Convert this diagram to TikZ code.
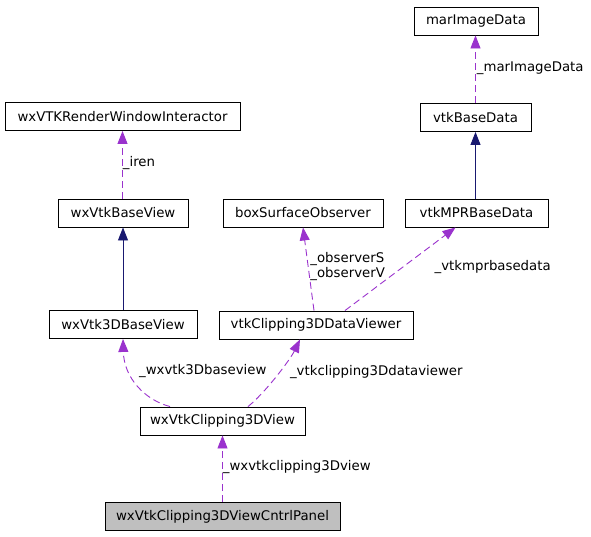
\documentclass[tikz,border=0pt]{standalone}
\usepackage{fontspec}
\setmainfont{DejaVu Sans}
\usetikzlibrary{arrows.meta}
\definecolor{usepurple}{RGB}{154,50,205}
\definecolor{inhnavy}{RGB}{25,25,112}

\begin{document}
\begin{tikzpicture}[x=1pt, y=-1pt,
cls/.style = {draw=black, line width=0.9pt, minimum height=28pt,
            inner sep=0pt, font=\fontsize{13.3}{15}\selectfont},
member/.style = {usepurple, line width=0.9pt, dash pattern=on 7pt off 4pt,
            -{Triangle[length=13pt,width=10pt]}},
inherit/.style = {inhnavy, line width=0.9pt,
            -{Triangle[length=13pt,width=10pt]}},
lbl/.style = {anchor=west, inner sep=0pt, text=black, align=left,
            font=\fontsize{13.3}{15}\selectfont}
                ]
    \useasboundingbox (0,0) rectangle (591,536);
    % class boxes
    \foreach \x/\y/\w/\n/\t in {476/21/124/marimg/marImageData,
        475.5/117.5/111/basedata/vtkBaseData,
        122.5/116.5/235/iren/wxVTKRenderWindowInteractor,
        123/213/130/baseview/wxVtkBaseView,
        303/213/160/boxobs/boxSurfaceObserver,
        476.5/213/143/mprdata/vtkMPRBaseData,
        123/324.5/148/view3d/wxVtk3DBaseView,
        316/325/194/viewer/vtkClipping3DDataViewer,
        222.5/421/165/clipview/wxVtkClipping3DView}
        \node[cls, minimum width=\w] at (\x,\y) (\n) {\t};
    \node[cls, minimum width=235, fill=black!25] at (222.5,516.5) (panel)
        {wxVtkClipping3DViewCntrlPanel};

    % inheritance
    \draw [inherit] (mprdata.north -| basedata) -- (basedata.south);
    \draw [inherit] (view3d.north) -- (baseview.south);

    % members
    \draw [member] (basedata.north) -- node[lbl, pos=0.5, xshift=1pt, yshift=1.5pt] {\_marImageData} (marimg.south -| basedata);
    \draw [member] (baseview.north -| iren) -- node[lbl, pos=0.5, yshift=1.5pt] {\_iren} (iren.south);
    \draw [member] ([xshift=-2pt]viewer.north) -- node[lbl, pos=0.5, xshift=1.5pt, yshift=2.5pt] {\_observerS\\\_observerV} (boxobs.south);
    \draw [member] ([xshift=29pt]viewer.north) -- node[lbl, pos=0.5, xshift=34pt, yshift=1.5pt] {\_vtkmprbasedata} ([xshift=-21pt]mprdata.south);
    \draw [member] ([xshift=-52.5pt]clipview.north) .. controls (145,400) and (124,378) .. node[lbl, pos=0.65, xshift=8pt, yshift=3pt] {\_wxvtk3Dbaseview} (view3d.south);
    \draw [member] ([xshift=25.5pt]clipview.north) .. controls (265,393) and (290,360) .. node[lbl, pos=0.5, xshift=13pt, yshift=4pt] {\_vtkclipping3Ddataviewer} ([xshift=-16pt]viewer.south);
    \draw [member] (panel.north) -- node[lbl, pos=0.5, yshift=1.5pt] {\_wxvtkclipping3Dview} (clipview.south);
\end{tikzpicture}
\end{document}
